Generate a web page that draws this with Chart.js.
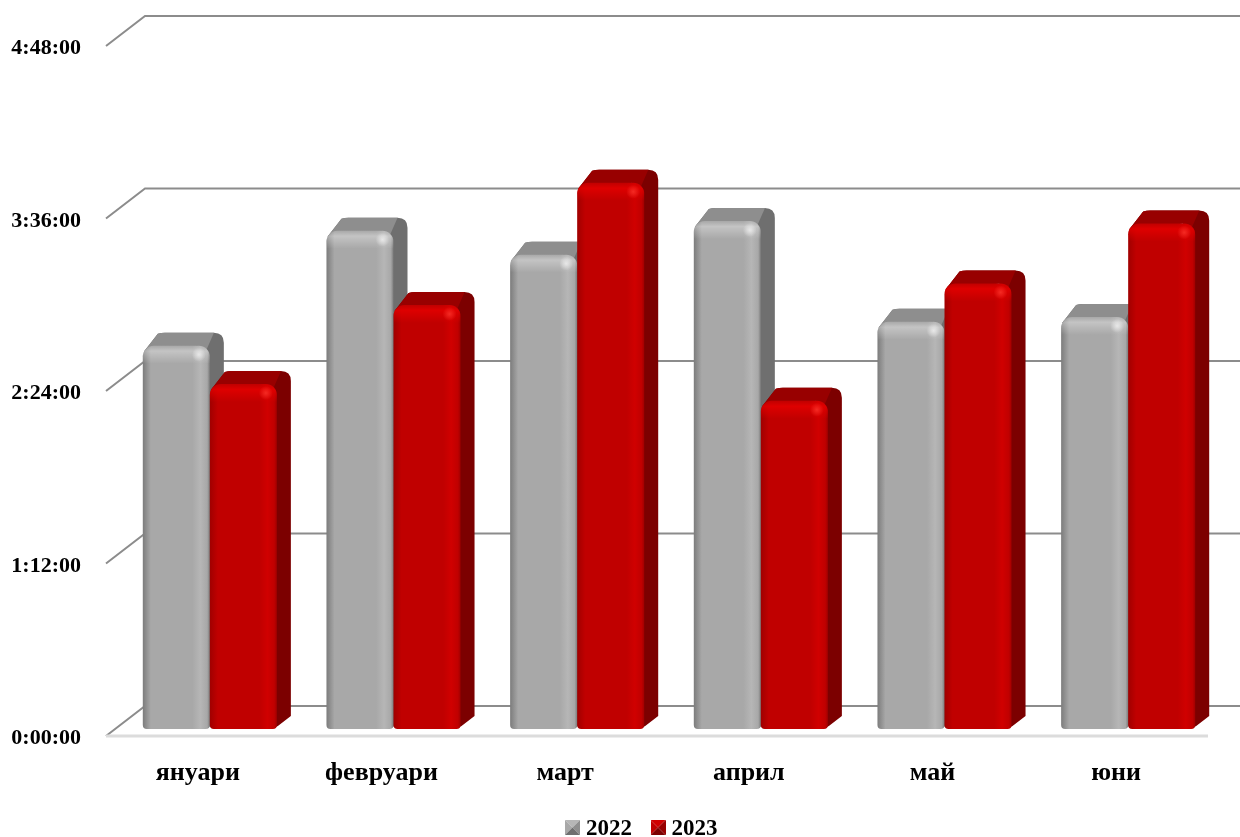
<!DOCTYPE html>
<html>
<head>
<meta charset="utf-8">
<script src="https://cdn.jsdelivr.net/npm/chart.js@4"></script>
<style>
  html, body { margin: 0; background: #fff; }
  #wrap { width: 1240px; height: 837px; }
</style>
</head>
<body>
<div id="wrap"><canvas id="timeChart" width="1240" height="837"></canvas></div>
<script>
// Данни: минути, четени от графиката
const months = ['януари', 'февруари', 'март', 'април', 'май', 'юни'];
const values2022 = [160, 208, 198, 212, 170, 172];
const values2023 = [144, 177, 228, 137, 186, 211];
const seriesNames = ['2022', '2023'];
const tickLabels = ['0:00:00', '1:12:00', '2:24:00', '3:36:00', '4:48:00'];
const tickStep = 72;

const SERIF = '"Liberation Serif", serif';

// Палитра за 3D колоните
const looks = [
    { face: '#a8a8a8', edge: '#7c7c7c', shine: '#b6b6b6', side: '#6f6f6f', top: '#8e8e8e', rim: 'rgba(255,255,255,0.32)', rimEnd: 'rgba(255,255,255,0)', spot: 'rgba(255,255,255,0.6)', spotEnd: 'rgba(255,255,255,0)' },
    { face: '#c00000', edge: '#a00000', shine: '#d00000', side: '#7c0000', top: '#980000', rim: 'rgba(232,0,0,0.75)', rimEnd: 'rgba(232,0,0,0)', spot: 'rgba(255,60,50,0.7)', spotEnd: 'rgba(255,60,50,0)' }
];

const DEPTH_X = 39, DEPTH_Y = 30;      // дълбочина на пода
const BAR_X = 12, BAR_Y = 7;           // колоните стоят навътре в пода
const BAR_DX = 14, BAR_DY = 13;        // дълбочина на колоната

function swatch(look) {
    const c = document.createElement('canvas');
    // по-висок от квадратчето, за да стои малко над средата на текста
    c.width = 15; c.height = 19;
    const g = c.getContext('2d');
    const tri = (pts, col) => {
        g.fillStyle = col;
        g.beginPath();
        pts.forEach((p, i) => i ? g.lineTo(p[0], p[1]) : g.moveTo(p[0], p[1]));
        g.closePath();
        g.fill();
    };
    tri([[0, 0], [15, 0], [7.5, 7.5]], look.shine);
    tri([[0, 0], [0, 15], [7.5, 7.5]], look.face);
    tri([[15, 0], [15, 15], [7.5, 7.5]], look.top);
    tri([[0, 15], [15, 15], [7.5, 7.5]], look.side);
    return c;
}

function drawBar(ctx, el, look) {
    const p = el.getProps(['x', 'y', 'base', 'width'], true);
    const w = p.width;
    const x = p.x - w / 2 + BAR_X;
    const top = p.y - BAR_Y;
    const bottom = p.base - BAR_Y;
    const r = 11;

    // дълбочина: страна и горна стена
    ctx.beginPath();
    ctx.moveTo(x + 1, top + 6);
    ctx.lineTo(x + 15, top - BAR_DY + 1);
    ctx.quadraticCurveTo(x + 18, top - BAR_DY, x + 22, top - BAR_DY);
    ctx.lineTo(x + w + BAR_DX - 10, top - BAR_DY);
    ctx.quadraticCurveTo(x + w + BAR_DX, top - BAR_DY, x + w + BAR_DX, top - BAR_DY + 10);
    ctx.lineTo(x + w + BAR_DX, bottom - BAR_DY);
    ctx.lineTo(x + w + 1, bottom - 3);
    ctx.quadraticCurveTo(x + w - 3, bottom, x + w - 12, bottom);
    ctx.lineTo(x + w - 12, top);
    ctx.closePath();
    ctx.fillStyle = look.side;
    ctx.fill();

    ctx.save();
    ctx.clip();
    ctx.beginPath();
    ctx.moveTo(x - 2, top + 8);
    ctx.lineTo(x + 12, top - BAR_DY - 2);
    ctx.lineTo(x + w + 5, top - BAR_DY - 2);
    ctx.lineTo(x + w - 6, top + 10);
    ctx.closePath();
    ctx.fillStyle = look.top;
    ctx.fill();
    ctx.restore();

    // лице
    ctx.beginPath();
    ctx.roundRect(x, top, w, bottom - top, [r, r, 4, 4]);
    const g = ctx.createLinearGradient(x, 0, x + w, 0);
    g.addColorStop(0, look.edge);
    g.addColorStop(0.12, look.face);
    g.addColorStop(0.74, look.face);
    g.addColorStop(0.86, look.shine);
    g.addColorStop(0.96, look.face);
    g.addColorStop(1, look.edge);
    ctx.fillStyle = g;
    ctx.fill();

    ctx.save();
    ctx.clip();
    const rim = ctx.createLinearGradient(0, top, 0, top + 18);
    rim.addColorStop(0, look.rimEnd);
    rim.addColorStop(0.3, look.rim);
    rim.addColorStop(1, look.rimEnd);
    ctx.fillStyle = rim;
    ctx.fillRect(x, top, w, 18);
    const sx = x + w - 11, sy = top + 9;
    const spot = ctx.createRadialGradient(sx, sy, 0, sx, sy, 7);
    spot.addColorStop(0, look.spot);
    spot.addColorStop(1, look.spotEnd);
    ctx.fillStyle = spot;
    ctx.fillRect(sx - 7, sy - 7, 14, 14);
    ctx.restore();
}

const depthGrid = {
    id: 'depthGrid',
    afterLayout(chart) {
        // легендата е изместена спрямо центъра на платното
        chart.legend.left = 80;
    },
    beforeDatasetsDraw(chart) {
        const { ctx, chartArea } = chart;
        const y = chart.scales.y;
        ctx.save();
        ctx.strokeStyle = '#8c8c8c';
        ctx.lineWidth = 2;
        y.ticks.forEach(t => {
            const py = y.getPixelForValue(t.value);
            ctx.beginPath();
            ctx.moveTo(chartArea.left, py);
            ctx.lineTo(chartArea.left + DEPTH_X, py - DEPTH_Y);
            ctx.lineTo(chart.width, py - DEPTH_Y);
            ctx.stroke();
        });
        // предният ръб на пода
        const floor = y.getPixelForValue(0);
        ctx.strokeStyle = '#dcdcdc';
        ctx.lineWidth = 3;
        ctx.beginPath();
        ctx.moveTo(chartArea.left, floor);
        ctx.lineTo(chartArea.right, floor);
        ctx.stroke();
        ctx.restore();
    },
    beforeDatasetDraw() {
        return false;
    },
    afterDatasetsDraw(chart) {
        const { ctx } = chart;
        ctx.save();
        chart.data.datasets.forEach((ds, i) => {
            chart.getDatasetMeta(i).data.forEach(el => drawBar(ctx, el, looks[i]));
        });
        ctx.restore();
    }
};

new Chart(document.getElementById('timeChart'), {
    type: 'bar',
    data: {
        labels: months,
        datasets: [
            { label: seriesNames[0], data: values2022, backgroundColor: looks[0].face },
            { label: seriesNames[1], data: values2023, backgroundColor: looks[1].face }
        ]
    },
    options: {
        responsive: false,
        animation: false,
        categoryPercentage: 0.73,
        barPercentage: 1,
        layout: { padding: { left: 0, right: 32, top: 46, bottom: -14 } },
        plugins: {
            tooltip: { enabled: false },
            legend: {
                position: 'bottom',
                labels: {
                    usePointStyle: true,
                    pointStyleWidth: 4,
                    padding: 24,
                    color: '#000',
                    font: { family: SERIF, size: 23, weight: 'bold' },
                    generateLabels: () => seriesNames.map((name, i) => ({
                        text: name,
                        pointStyle: swatch(looks[i]),
                        fillStyle: looks[i].face,
                        strokeStyle: looks[i].face,
                        lineWidth: 0,
                        datasetIndex: i
                    }))
                }
            }
        },
        scales: {
            x: {
                grid: { display: false },
                border: { display: false },
                afterFit: s => { s.height = 58; },
                ticks: { color: '#000', font: { family: SERIF, size: 26, weight: 'bold' }, padding: 14, maxRotation: 0 }
            },
            y: {
                min: 0,
                max: tickStep * (tickLabels.length - 1),
                grid: { display: false, drawTicks: false },
                border: { display: false },
                afterFit: s => { s.width = 106; },
                ticks: {
                    stepSize: tickStep,
                    autoSkip: false,
                    color: '#000',
                    // празният първи ред сваля надписа с 2-3 px под чертата
                    font: { family: SERIF, size: 22, weight: 'bold', lineHeight: 0.23 },
                    padding: 25,
                    callback: (v, i) => ['', tickLabels[i]]
                }
            }
        }
    },
    plugins: [depthGrid]
});
</script>
</body>
</html>
